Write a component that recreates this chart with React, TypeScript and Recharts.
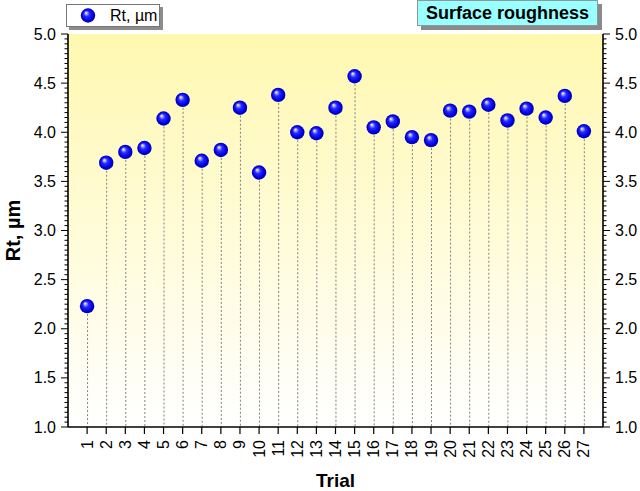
import React from 'react';
import {
  ComposedChart, XAxis, YAxis, Scatter, Bar, CartesianGrid, Legend,
} from 'recharts';

const trials = [1, 2, 3, 4, 5, 6, 7, 8, 9, 10, 11, 12, 13, 14, 15, 16, 17, 18, 19, 20, 21, 22, 23, 24, 25, 26, 27];
const rtValues = [2.23, 3.69, 3.80, 3.84, 4.14, 4.33, 3.71, 3.82, 4.25, 3.59, 4.38, 4.00, 3.99, 4.25, 4.57, 4.05, 4.11, 3.95, 3.92, 4.22, 4.21, 4.28, 4.12, 4.24, 4.15, 4.37, 4.01];
const seriesName = 'Rt, µm';
const titleText = 'Surface roughness';
const xLabel = 'Trial';
const yLabel = 'Rt, µm';
const yMajorTicks = [1.0, 1.5, 2.0, 2.5, 3.0, 3.5, 4.0, 4.5, 5.0];
const yAllTicks = Array.from({ length: 81 }, (_, i) => +(1 + i * 0.05).toFixed(2));

const data = trials.map((t, i) => ({ trial: t, rt: rtValues[i] }));

const FONT = '"Liberation Sans", Arial, sans-serif';
const TICK_SIZE = 7;
const TICK_MARGIN = 5;

const isMajor = (v: number) => yMajorTicks.some((m) => Math.abs(m - v) < 1e-6);

const LeftTick = (props: any) => {
  const { x, y, payload } = props;
  const ax = x + TICK_SIZE + TICK_MARGIN;
  const major = isMajor(payload.value);
  return (
    <g>
      <line x1={ax} x2={ax - (major ? 7 : 3.5)} y1={y} y2={y} stroke="#000" strokeWidth={1} />
      {major && (
        <text x={ax - 12} y={y} textAnchor="end" dominantBaseline="central" fontFamily={FONT} fontSize={16} fill="#000">
          {payload.value.toFixed(1)}
        </text>
      )}
    </g>
  );
};

const RightTick = (props: any) => {
  const { x, y, payload } = props;
  const ax = x - TICK_SIZE - TICK_MARGIN;
  const major = isMajor(payload.value);
  return (
    <g>
      <line x1={ax} x2={ax + (major ? 7 : 3.5)} y1={y} y2={y} stroke="#000" strokeWidth={1} />
      {major && (
        <text x={ax + 12} y={y} textAnchor="start" dominantBaseline="central" fontFamily={FONT} fontSize={16} fill="#000">
          {payload.value.toFixed(1)}
        </text>
      )}
    </g>
  );
};

const XTick = (props: any) => {
  const { x, y, payload } = props;
  return (
    <text
      x={x}
      y={y}
      transform={`rotate(-90, ${x}, ${y})`}
      textAnchor="end"
      dominantBaseline="central"
      fontFamily={FONT}
      fontSize={16}
      fill="#000"
    >
      {payload.value}
    </text>
  );
};

const Sphere = (props: any) => {
  const { cx, cy } = props;
  if (cx == null || cy == null) return null;
  return <circle cx={cx} cy={cy} r={7.2} fill="url(#sphereGrad)" />;
};

const Stem = (props: any) => {
  const { x, y, width, height } = props;
  if (x == null || y == null) return null;
  const mx = x + width / 2;
  return <line x1={mx} x2={mx} y1={y} y2={y + height} stroke="#808080" strokeWidth={1} strokeDasharray="2 2" />;
};

const LegendBox = () => (
  <div style={{ position: 'relative', width: 97, height: 26 }}>
    <div style={{ position: 'absolute', left: 3, top: 3, width: 94, height: 23, background: '#8c8c8c' }} />
    <div
      style={{
        position: 'absolute', left: 0, top: 0, width: 92, height: 21, background: '#fff',
        border: '1px solid #777', display: 'flex', alignItems: 'center',
      }}
    >
      <svg width={30} height={21} style={{ display: 'block' }}>
        <defs>
          <radialGradient id="sphereGradL" cx="50%" cy="50%" r="50%" fx="35%" fy="30%">
            <stop offset="0%" stopColor="#ffffff" />
            <stop offset="14%" stopColor="#b8b8ff" />
            <stop offset="40%" stopColor="#2a2aff" />
            <stop offset="78%" stopColor="#0000e8" />
            <stop offset="100%" stopColor="#00009a" />
          </radialGradient>
        </defs>
        <circle cx={21} cy={10.5} r={7.2} fill="url(#sphereGradL)" />
      </svg>
      <span style={{ fontFamily: FONT, fontSize: 16, color: '#000', marginLeft: 13, lineHeight: '21px' }}>{seriesName}</span>
    </div>
  </div>
);

const YLabel = (props: any) => {
  const { viewBox } = props;
  const cy = viewBox.y + viewBox.height / 2;
  const cx = 13;
  return (
    <text x={cx} y={cy} transform={`rotate(-90, ${cx}, ${cy})`} textAnchor="middle" dominantBaseline="central"
      fontFamily={FONT} fontSize={20} fontWeight="bold" fill="#000">
      {yLabel}
    </text>
  );
};

const XLabel = (props: any) => {
  const { viewBox } = props;
  const cx = viewBox.x + viewBox.width / 2;
  const cy = viewBox.y + 53;
  return (
    <text x={cx} y={cy} textAnchor="middle" dominantBaseline="central"
      fontFamily={FONT} fontSize={19} fontWeight="bold" fill="#000">
      {xLabel}
    </text>
  );
};

export default function App() {
  return (
    <div style={{ position: 'absolute', left: 0, top: 0, width: 640, height: 491, background: '#fff' }}>
      <ComposedChart width={640} height={491} data={data} margin={{ top: 34, right: 0, bottom: 0, left: 0 }}>
        <defs>
          <linearGradient id="bgGrad" x1="0" y1="0" x2="0" y2="1">
            <stop offset="0%" stopColor="#fff8b0" />
            <stop offset="100%" stopColor="#ffffff" />
          </linearGradient>
          <radialGradient id="sphereGrad" cx="50%" cy="50%" r="50%" fx="35%" fy="30%">
            <stop offset="0%" stopColor="#ffffff" />
            <stop offset="14%" stopColor="#b8b8ff" />
            <stop offset="40%" stopColor="#2a2aff" />
            <stop offset="78%" stopColor="#0000e8" />
            <stop offset="100%" stopColor="#00009a" />
          </radialGradient>
        </defs>
        <CartesianGrid horizontal={false} vertical={false} fill="url(#bgGrad)" fillOpacity={1} yAxisId="left" />
        <XAxis
          dataKey="trial"
          type="number"
          domain={[0, 28]}
          ticks={trials}
          interval={0}
          height={64}
          tickSize={7}
          tickMargin={6}
          tick={<XTick />}
          tickLine={{ stroke: '#000', strokeWidth: 1.2 }}
          axisLine={{ stroke: '#000', strokeWidth: 1.6 }}
          label={<XLabel />}
          allowDataOverflow
        />
        <XAxis
          xAxisId="top"
          orientation="top"
          type="number"
          domain={[0, 28]}
          height={0}
          tick={false}
          tickLine={false}
          axisLine={{ stroke: '#000', strokeWidth: 1.6 }}
        />
        <YAxis
          yAxisId="left"
          type="number"
          domain={[1, 5]}
          ticks={yAllTicks}
          interval={0}
          width={68}
          tickSize={TICK_SIZE}
          tickMargin={TICK_MARGIN}
          tickLine={false}
          tick={<LeftTick />}
          axisLine={{ stroke: '#000', strokeWidth: 1.6 }}
          label={<YLabel />}
          allowDataOverflow
        />
        <YAxis
          yAxisId="right"
          orientation="right"
          type="number"
          domain={[1, 5]}
          ticks={yAllTicks}
          interval={0}
          width={37}
          tickSize={TICK_SIZE}
          tickMargin={TICK_MARGIN}
          tickLine={false}
          tick={<RightTick />}
          axisLine={{ stroke: '#000', strokeWidth: 1.6 }}
          allowDataOverflow
        />
        <Bar dataKey="rt" yAxisId="left" barSize={2} shape={<Stem />} isAnimationActive={false} legendType="none" />
        <Scatter dataKey="rt" name={seriesName} yAxisId="left" shape={<Sphere />} isAnimationActive={false} />
        <Legend
          layout="horizontal"
          verticalAlign="middle"
          align="center"
          content={<LegendBox />}
          wrapperStyle={{ top: 4, left: 66, width: 100, height: 27 }}
        />
      </ComposedChart>
      <div style={{ position: 'absolute', left: 417, top: 0, width: 185, height: 30 }}>
        <div style={{ position: 'absolute', left: 4, top: 4, width: 181, height: 26, background: '#8a8a8a' }} />
        <div
          style={{
            position: 'absolute', left: 0, top: 0, width: 179, height: 24, background: '#99ffff',
            border: '1px solid #8a9a9a', fontFamily: FONT, fontSize: 18, fontWeight: 'bold', color: '#000',
            lineHeight: '25px', textAlign: 'center', whiteSpace: 'nowrap',
          }}
        >
          {titleText}
        </div>
      </div>
    </div>
  );
}
